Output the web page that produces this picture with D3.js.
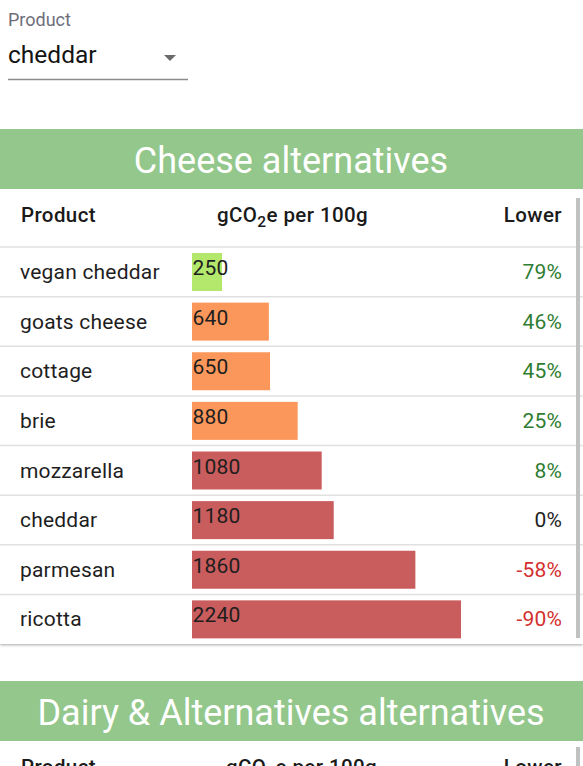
<!DOCTYPE html>
<html>
<head>
<meta charset="utf-8">
<script src="https://cdn.jsdelivr.net/npm/d3@7"></script>
<style>
  html, body { margin: 0; padding: 0; background: #fff; overflow: hidden; }
  svg { display: block; font-family: Roboto, "Noto Sans", sans-serif; }
</style>
</head>
<body>
<svg id="chart" width="583" height="766"></svg>
<script>
// ---- data ----
const selectedProduct = "cheddar";
const products = ["vegan cheddar", "goats cheese", "cottage", "brie", "mozzarella", "cheddar", "parmesan", "ricotta"];
const values = [250, 640, 650, 880, 1080, 1180, 1860, 2240];
const lowerPct = [79, 46, 45, 25, 8, 0, -58, -90];
const sectionTitles = ["Cheese alternatives", "Dairy & Alternatives alternatives"];
const headers = ["Product", "gCO2e per 100g", "Lower"];
const colorThresholds = [500, 1000];
const barColors = ["#b3e86d", "#fb975a", "#c95c5c"];

const svg = d3.select("#chart");
const W = 583;

// drop shadow
const defs = svg.append("defs");
const f = defs.append("filter").attr("id", "shadow").attr("x", "-5%").attr("y", "-5%").attr("width", "110%").attr("height", "115%");
f.append("feDropShadow").attr("dx", 0).attr("dy", 1).attr("stdDeviation", 1.5).attr("flood-color", "#000").attr("flood-opacity", 0.35);

// ---- dropdown ----
svg.append("text").attr("x", 8).attr("y", 26).attr("font-size", 18).attr("fill", "#6e6e7a").text("Product");
svg.append("text").attr("x", 8).attr("y", 63).attr("font-size", 24.5).attr("fill", "#141414").text(selectedProduct);
svg.append("path").attr("d", "M164,55 L176,55 L170,61 Z").attr("fill", "#6a6a6a");
svg.append("line").attr("x1", 8).attr("x2", 188).attr("y1", 79.5).attr("y2", 79.5).attr("stroke", "#8c8c8c").attr("stroke-width", 1.5);

const FS = 21, LS = 0.2, HFS = 20.5, HLS = 0.4;

// ---- helpers ----
function header(g, y, gx) {
  const common = s => s.attr("font-size", HFS).attr("letter-spacing", HLS).attr("font-weight", 500).attr("fill", "#1a1a1a");
  g.append("text").attr("x", 21).attr("y", y).call(common).text(headers[0]);
  const t = g.append("text").attr("x", gx).attr("y", y).call(common);
  t.append("tspan").text("gCO");
  t.append("tspan").attr("font-size", 15.5).attr("dy", 5).text("2");
  t.append("tspan").attr("dy", -5).text("e per 100g");
  g.append("text").attr("x", 562).attr("y", y).attr("text-anchor", "end").call(common).text(headers[2]);
}

// ---- section 1 ----
const bandTop1 = 129, bandH = 60;
const cardBottom = 644;
const headTop = bandTop1 + bandH;
const rowsTop = 247;

svg.append("rect").attr("x", 0).attr("y", headTop).attr("width", W).attr("height", cardBottom - headTop)
  .attr("fill", "#fff").attr("filter", "url(#shadow)");
svg.append("rect").attr("x", 0).attr("y", bandTop1).attr("width", W).attr("height", bandH).attr("fill", "#93c78b");
svg.append("text").attr("x", 291).attr("y", bandTop1 + 44).attr("text-anchor", "middle").attr("font-size", 36).attr("fill", "#fff").text(sectionTitles[0]);

const g1 = svg.append("g");
header(g1, headTop + 33, 217);

const y = d3.scaleBand().domain(products).range([rowsTop, cardBottom]).paddingInner(0);
const x = d3.scaleLinear().domain([0, 2240]).range([192, 461]);
const color = d3.scaleThreshold().domain(colorThresholds).range(barColors);

const rows = g1.selectAll("g.row").data(products.map((p, i) => ({ p, v: values[i], l: lowerPct[i] })))
  .join("g").attr("class", "row").attr("transform", d => `translate(0,${y(d.p)})`);

rows.append("line").attr("x1", 0).attr("x2", W).attr("y1", 0).attr("y2", 0).attr("stroke", "#e0e0e0").attr("stroke-width", 1.5);
rows.append("text").attr("x", 20).attr("y", 32).attr("font-size", FS).attr("letter-spacing", LS).attr("fill", "#1e1e1e").text(d => d.p);
rows.append("rect").attr("x", x(0)).attr("y", 6).attr("width", d => x(d.v) - x(0)).attr("height", 38).attr("fill", d => color(d.v));
rows.append("text").attr("x", x(0) + 0.5).attr("y", 28).attr("font-size", FS).attr("letter-spacing", LS).attr("fill", "#1e1e1e").text(d => d.v);
rows.append("text").attr("x", 562).attr("y", 32).attr("text-anchor", "end").attr("font-size", FS).attr("letter-spacing", LS)
  .attr("fill", d => d.l > 0 ? "#2e7d32" : d.l < 0 ? "#d32f2f" : "#1e1e1e").text(d => d.l + "%");

svg.append("rect").attr("x", 576).attr("y", headTop + 9).attr("width", 4).attr("height", cardBottom - 6 - headTop - 9).attr("fill", "#c1c1c1");

// ---- section 2 ----
const bandTop2 = 681;
svg.append("rect").attr("x", 0).attr("y", bandTop2 + bandH).attr("width", W).attr("height", 200).attr("fill", "#fff").attr("filter", "url(#shadow)");
svg.append("rect").attr("x", 0).attr("y", bandTop2).attr("width", W).attr("height", bandH).attr("fill", "#93c78b");
svg.append("text").attr("x", 291).attr("y", bandTop2 + 44).attr("text-anchor", "middle").attr("font-size", 36).attr("fill", "#fff").text(sectionTitles[1]);
const g2 = svg.append("g");
header(g2, bandTop2 + bandH + 33, 226);
svg.append("rect").attr("x", 576).attr("y", bandTop2 + bandH + 6).attr("width", 4).attr("height", 100).attr("fill", "#c1c1c1");
</script>
</body>
</html>
